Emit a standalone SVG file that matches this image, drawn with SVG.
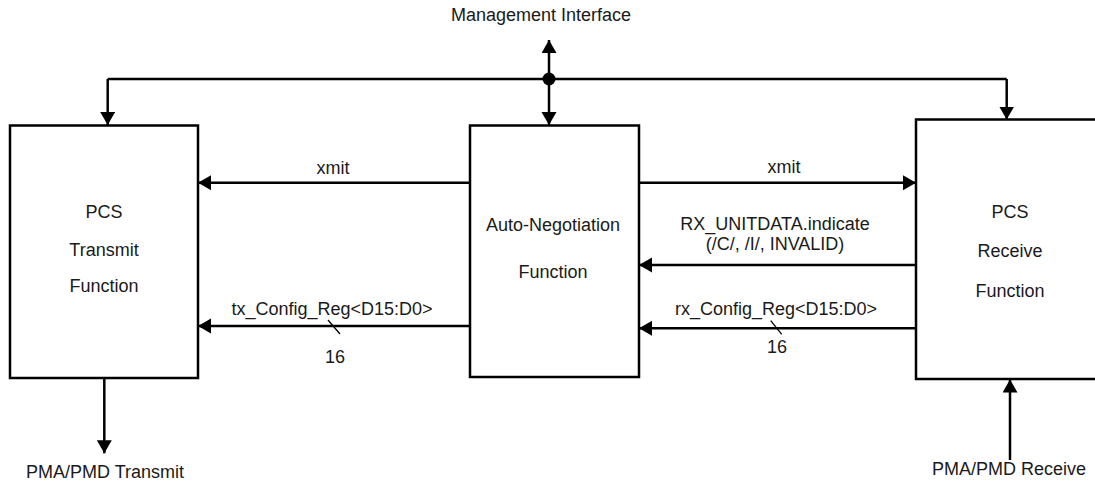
<svg xmlns="http://www.w3.org/2000/svg" width="1095" height="482" viewBox="0 0 1095 482">
<defs>
<style>
.box{fill:#fff;stroke:#000;stroke-width:2.5}
.ln{fill:none;stroke:#000;stroke-width:2.5}
.thin{fill:none;stroke:#000;stroke-width:1.3}
text{font-family:"Liberation Sans",Arial,sans-serif;font-size:18px;fill:#1a1a1a;text-anchor:middle}
</style>
<marker id="ah" markerUnits="userSpaceOnUse" markerWidth="14" markerHeight="16" refX="13" refY="7.5" orient="auto">
<path d="M0,0 L13,7.5 L0,15 z" fill="#000"/>
</marker>
</defs>
<rect width="1095" height="482" fill="#fff"/>
<g id="connectors">
<path class="ln" d="M107.7,79 H1006.7"/>
<path class="ln" d="M107.7,79 V125" marker-end="url(#ah)"/>
<path class="ln" d="M1006.7,79 V119.5" marker-end="url(#ah)"/>
<path class="ln" d="M549,79 V40" marker-end="url(#ah)"/>
<path class="ln" d="M549,79 V125" marker-end="url(#ah)"/>
<circle cx="549" cy="79" r="6.5" fill="#000"/>
<path class="ln" d="M470,182.7 H198" marker-end="url(#ah)"/>
<path class="ln" d="M470,326 H198" marker-end="url(#ah)"/>
<path class="ln" d="M639,182.7 H916" marker-end="url(#ah)"/>
<path class="ln" d="M916,265 H639" marker-end="url(#ah)"/>
<path class="ln" d="M916,328.3 H639" marker-end="url(#ah)"/>
<path class="ln" d="M104.3,378 V453.3" marker-end="url(#ah)"/>
<path class="ln" d="M1010,460 V379.5" marker-end="url(#ah)"/>
<path class="thin" d="M328,320 L340,334"/>
<path class="thin" d="M770.7,320.7 L781.7,334.3"/>
<text x="333" y="174">xmit</text>
<text x="332" y="315">tx_Config_Reg&lt;D15:D0&gt;</text>
<text x="335" y="363">16</text>
<text x="784" y="173">xmit</text>
<text x="775" y="229.5">RX_UNITDATA.indicate</text>
<text x="775" y="250">(/C/, /I/, INVALID)</text>
<text x="776" y="315">rx_Config_Reg&lt;D15:D0&gt;</text>
<text x="777" y="353">16</text>
</g>
<g id="mgmt"><text x="541" y="21">Management Interface</text></g>
<g id="pma-tx"><text x="105" y="478">PMA/PMD Transmit</text></g>
<g id="pma-rx"><text x="1009" y="475">PMA/PMD Receive</text></g>
<g id="pcs-tx">
<rect class="box" x="10" y="125.5" width="188" height="252.5"/>
<text x="104" y="218">PCS</text>
<text x="104" y="255.5">Transmit</text>
<text x="104" y="292">Function</text>
</g>
<g id="autoneg">
<rect class="box" x="470" y="125.5" width="169" height="251.5"/>
<text x="553" y="230.5">Auto-Negotiation</text>
<text x="553" y="277.5">Function</text>
</g>
<g id="pcs-rx">
<rect class="box" x="916" y="119.5" width="200" height="259.5"/>
<text x="1010" y="218">PCS</text>
<text x="1010" y="257">Receive</text>
<text x="1010" y="297">Function</text>
</g>
</svg>
